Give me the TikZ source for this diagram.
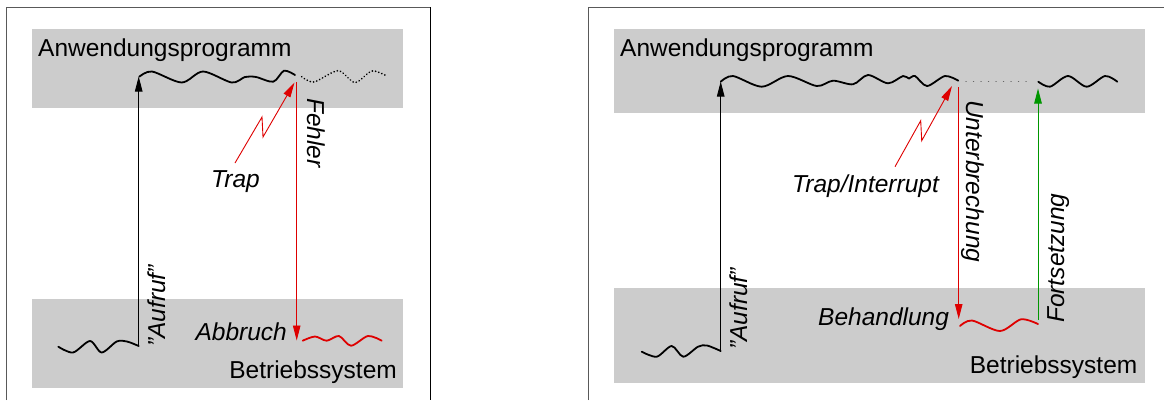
\documentclass[tikz,border=0pt]{standalone}
\usepackage{fontspec}
\setmainfont{Liberation Sans}
\usetikzlibrary{arrows.meta}
\definecolor{bandgray}{RGB}{204,204,204}
\definecolor{alarm}{RGB}{222,0,0}
\definecolor{resume}{RGB}{0,150,0}

\tikzset{
  frameline/.style={line width=1pt, draw=black!65},
  lbl/.style={inner sep=0pt, font=\fontsize{24.5}{29}\selectfont},
  itlbl/.style={inner sep=0pt, font=\fontsize{24.5}{29}\selectfont\itshape},
  flow/.style={line width=1.8pt, line cap=round, line join=round},
  flowdots/.style={line width=1.8pt, line cap=round, dash pattern=on 0.1pt off 3.2pt},
  gapdots/.style={line width=1.3pt, draw=black!60, line cap=round, dash pattern=on 0.1pt off 7.4pt},
  tip/.style={-{Triangle[length=15pt,width=7.5pt]}},
  callarrow/.style={tip, line width=0.9pt, draw=black},
  errarrow/.style={tip, line width=0.9pt, draw=alarm},
  contarrow/.style={tip, line width=0.9pt, draw=resume},
}

\begin{document}
\begin{tikzpicture}[x=1pt,y=-1pt]
\useasboundingbox (0,0) rectangle (1164,400);

% ---------- left panel: trap leads to abort ----------
\draw[frameline] (6,400) -- (6,7) -- (430,7);
\draw[line width=1pt] (430,7) -- (430,400);
\fill[bandgray] (32,29) rectangle (403,108);
\fill[bandgray] (32,299) rectangle (403,388);

\node[lbl, anchor=base west] (appL) at (38,56) {Anwendungsprogramm};
\node[lbl, anchor=base east] (osL) at (397,378.5) {Betriebssystem};

\coordinate (callL0) at (138.7,346);
\coordinate (callL1) at (138.7,76.5);
\coordinate (errL0) at (296.7,82);
\coordinate (errL1) at (296.7,340.5);
\coordinate (boltL0) at (235,163);
\coordinate (boltL1) at (294.5,82.5);

% program flow in the operating system, then the call
\draw[flow] plot[smooth] coordinates {(58.3,346.7) (73,352.5) (90,341) (101.7,352.5) (116.7,341.5) (127,341.5) (138.7,346)};
\draw[callarrow] (callL0) -- (callL1);

% application program flow, cut off after the error
\draw[flow] plot[smooth] coordinates {(139.3,76.7) (152,71.5) (181.7,82.5) (203,71.5) (231.7,82.5) (245,77) (256,77) (273.3,81.7) (284,70.7) (295,75)};
\draw[flowdots] plot[smooth] coordinates {(301.7,76.7) (314,82) (338,70.7) (355,82.5) (372,71) (386.7,76)};

% trap bolt and the error path
\draw[errarrow] (boltL0) -- (262,117) -- (263,137) -- (boltL1);
\draw[errarrow] (errL0) -- (errL1);
\draw[flow, alarm] plot[smooth] coordinates {(302.7,340.7) (315,336.5) (326.7,340.7) (339,336) (351,345.7) (368,336) (381.7,340.7)};

\node[itlbl, anchor=base west] (trapL) at (211,187.5) {Trap};
\node[itlbl, anchor=base east] (abortL) at (287,340.8) {Abbruch};
\node[itlbl, rotate=90, anchor=base west] (callTxtL) at (165,347) {\symbol{34}Aufruf\symbol{34}};
\node[itlbl, rotate=-90, anchor=base west] (errTxt) at (307,98) {Fehler};

% ---------- right panel: interrupt is handled and resumed ----------
\draw[frameline] (588,400) -- (588,7) -- (1164,7);
\fill[bandgray] (614,29) rectangle (1145,113);
\fill[bandgray] (614,288) rectangle (1145,383);

\node[lbl, anchor=base west] (appR) at (620,56) {Anwendungsprogramm};
\node[lbl, anchor=base east] (osR) at (1137.5,373) {Betriebssystem};

\coordinate (callR0) at (720.7,351.5);
\coordinate (callR1) at (720.7,81.5);
\coordinate (intR0) at (958.7,87);
\coordinate (intR1) at (958.7,319);
\coordinate (contR0) at (1038,320);
\coordinate (contR1) at (1038,88.5);
\coordinate (boltR0) at (895,166.7);
\coordinate (boltR1) at (952,86);
\coordinate (gapR0) at (966,81.7);
\coordinate (gapR1) at (1033,81.7);

\draw[flow] plot[smooth] coordinates {(641.7,351.7) (656.7,356.7) (671.7,346) (683.3,356.7) (698,346.7) (707,345.5) (720.7,351)};
\draw[callarrow] (callR0) -- (callR1);

\draw[flow] plot[smooth] coordinates {(720.7,81.7) (733,76) (761.7,86.7) (788,76) (816.7,86) (833,80.7) (853,84.3) (868,75) (888,83.3) (903,76) (909,78.5) (915,76) (927,86) (945,76) (958.3,80.7)};
\draw[gapdots] (gapR0) -- (gapR1);
\draw[flow] plot[smooth] coordinates {(1038.3,81.7) (1050,86.7) (1068,76) (1086.7,86.7) (1105,76) (1117.3,81.7)};

\draw[errarrow] (boltR0) -- (920.7,120.7) -- (921.7,140.7) -- (boltR1);
\draw[errarrow] (intR0) -- (intR1);
\draw[flow, alarm] plot[smooth] coordinates {(960,326) (972,320.5) (1000,331) (1021,319.3) (1038,324)};
\draw[contarrow] (contR0) -- (contR1);

\node[itlbl, anchor=base west] (trapR) at (792,192.5) {Trap/Interrupt};
\node[itlbl, anchor=base west] (handleR) at (818,325) {Behandlung};
\node[itlbl, rotate=90, anchor=base west] (callTxtR) at (747,350) {\symbol{34}Aufruf\symbol{34}};
\node[itlbl, rotate=-90, anchor=base west] (intTxt) at (966.5,100) {Unterbrechung};
\node[itlbl, rotate=90, anchor=base west] (contTxt) at (1064.5,323) {Fortsetzung};
\end{tikzpicture}
\end{document}
